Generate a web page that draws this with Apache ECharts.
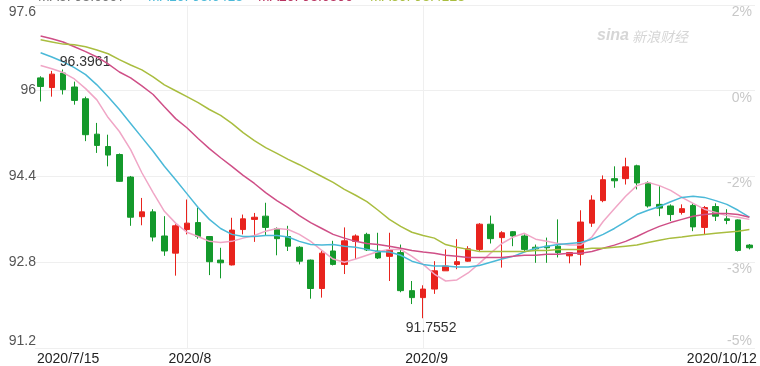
<!DOCTYPE html>
<html><head><meta charset="utf-8">
<script src="https://cdn.jsdelivr.net/npm/echarts@6/dist/echarts.min.js"></script>
<style>html,body{margin:0;padding:0;background:#fff}#c{width:760px;height:366px}</style>
</head><body><div id="c"></div>
<script>
const dates = ['2020/7/15','2020/7/16','2020/7/17','2020/7/20','2020/7/21','2020/7/22','2020/7/23','2020/7/24','2020/7/27','2020/7/28','2020/7/29','2020/7/30','2020/7/31',
'2020/8/3','2020/8/4','2020/8/5','2020/8/6','2020/8/7','2020/8/10','2020/8/11','2020/8/12','2020/8/13','2020/8/14','2020/8/17','2020/8/18','2020/8/19','2020/8/20','2020/8/21','2020/8/24','2020/8/25','2020/8/26','2020/8/27','2020/8/28','2020/8/31',
'2020/9/1','2020/9/2','2020/9/3','2020/9/4','2020/9/7','2020/9/8','2020/9/9','2020/9/10','2020/9/11','2020/9/14','2020/9/15','2020/9/16','2020/9/17','2020/9/18','2020/9/21','2020/9/22','2020/9/23','2020/9/24','2020/9/25','2020/9/28','2020/9/29','2020/9/30',
'2020/10/1','2020/10/2','2020/10/5','2020/10/6','2020/10/7','2020/10/8','2020/10/9','2020/10/12'];
const opens  = [96.24,96.06,96.33,96.07,95.85,95.19,94.96,94.81,94.39,93.65,93.74,93.29,92.97,93.41,93.54,93.28,92.84,92.75,93.41,93.60,93.66,93.43,93.28,93.08,92.84,92.31,93.01,92.76,93.19,93.32,93.01,92.91,92.98,92.27,92.14,92.30,92.64,92.76,92.82,93.04,93.51,93.26,93.37,93.29,93.08,93.10,93.10,92.92,92.95,93.53,93.95,94.36,94.36,94.60,94.28,93.88,93.85,93.73,93.86,93.45,93.84,93.61,93.59,93.12];
const closes = [96.08,96.31,96.02,95.82,95.18,94.98,94.80,94.31,93.64,93.74,93.27,93.01,93.48,93.53,93.28,92.81,92.79,93.40,93.61,93.64,93.45,93.24,93.10,92.82,92.31,92.97,92.76,93.20,93.29,93.03,92.88,93.03,92.27,92.14,92.30,92.64,92.73,92.81,93.05,93.51,93.24,93.35,93.29,93.04,93.05,93.07,92.98,92.98,93.55,93.96,94.34,94.32,94.58,94.28,93.85,93.81,93.69,93.80,93.46,93.82,93.66,93.58,93.02,93.07];
const lows   = [95.80,95.89,95.93,95.74,95.06,94.84,94.59,94.30,93.48,93.49,93.19,92.92,92.55,93.32,93.24,92.56,92.50,92.74,93.32,93.18,93.29,92.93,93.01,92.76,92.12,92.14,92.74,92.58,92.86,93.01,92.86,92.45,92.24,92.02,91.7552,92.21,92.64,92.67,92.81,93.01,93.15,92.70,93.10,93.01,92.79,92.79,92.89,92.78,92.74,93.46,93.92,94.19,94.25,94.16,93.82,93.66,93.57,93.69,93.38,93.32,93.57,93.51,93.00,93.04];
const highs  = [96.27,96.37,96.3961,96.17,95.89,95.40,95.18,94.83,94.41,94.00,93.79,93.66,93.51,93.97,93.82,93.29,93.07,93.63,93.69,93.72,93.91,93.45,93.48,93.10,92.85,93.01,93.20,93.45,93.32,93.35,93.35,93.35,93.13,92.45,92.37,92.82,93.04,93.23,93.10,93.53,93.67,93.38,93.38,93.32,93.13,93.26,93.60,92.99,93.77,94.05,94.42,94.59,94.75,94.62,94.31,94.22,93.88,93.88,93.90,93.85,93.90,93.79,93.60,93.14];
const ma5  = [96.47,96.41,96.34,96.22,96.04,95.83,95.50,95.24,94.90,94.47,94.10,93.75,93.53,93.36,93.28,93.19,93.17,93.19,93.25,93.30,93.38,93.43,93.41,93.32,93.19,93.02,92.86,92.80,92.86,92.93,93.00,93.04,93.04,92.91,92.76,92.58,92.45,92.47,92.60,92.78,92.97,93.15,93.27,93.34,93.23,93.19,93.15,93.12,93.12,93.27,93.56,93.80,94.03,94.23,94.29,94.23,94.14,94.01,93.90,93.79,93.73,93.67,93.64,93.60];
const ma10 = [96.71,96.63,96.54,96.43,96.30,96.11,95.89,95.65,95.39,95.13,94.87,94.59,94.34,94.08,93.82,93.60,93.43,93.32,93.28,93.28,93.30,93.30,93.27,93.19,93.13,93.12,93.13,93.10,93.08,93.04,93.00,92.99,92.93,92.82,92.76,92.73,92.73,92.71,92.71,92.74,92.80,92.86,92.91,92.99,93.06,93.10,93.13,93.15,93.17,93.23,93.32,93.43,93.56,93.69,93.77,93.84,93.93,94.01,94.03,94.01,93.95,93.88,93.77,93.64];
const ma20 = [97.02,96.97,96.91,96.82,96.73,96.63,96.50,96.35,96.24,96.09,95.93,95.70,95.48,95.31,95.11,94.92,94.75,94.59,94.42,94.27,94.10,93.95,93.82,93.67,93.54,93.43,93.32,93.25,93.19,93.15,93.13,93.10,93.06,93.02,92.99,92.97,92.93,92.91,92.89,92.89,92.89,92.89,92.91,92.93,92.93,92.95,92.95,92.97,92.97,93.00,93.06,93.12,93.19,93.28,93.38,93.47,93.54,93.60,93.66,93.69,93.71,93.71,93.69,93.64];
const ma30 = [96.95,96.91,96.87,96.86,96.82,96.76,96.69,96.58,96.48,96.39,96.26,96.11,96.00,95.89,95.78,95.65,95.54,95.39,95.22,95.07,94.94,94.83,94.72,94.62,94.51,94.40,94.29,94.16,94.05,93.93,93.77,93.60,93.47,93.36,93.30,93.25,93.13,93.08,93.04,93.00,93.00,93.00,93.00,93.00,93.02,93.02,93.04,93.04,93.04,93.06,93.06,93.08,93.10,93.12,93.17,93.21,93.25,93.27,93.30,93.32,93.34,93.36,93.38,93.41];
const xLabelIdx  = [0, 13, 34, 63];
const xLabelText = ['2020/7/15', '2020/8', '2020/9', '2020/10/12'];
const leftTicks  = ['91.2', '92.8', '94.4', '96', '97.6'];   // bottom to top
const rightTicks = ['-5%', '-3%', '-2%', '0%', '2%'];         // bottom to top
const maxIdx = 2,  maxVal = 96.3961;
const minIdx = 34, minVal = 91.7552;
const legendTexts = ['MA5: 93.6007', 'MA10: 93.6413', 'MA20: 93.6390', 'MA30: 93.4128'];

const FONT = 'Arial, "Liberation Sans", sans-serif';
const maColors = ['#f0a6c6', '#4bb9d8', '#cf4f87', '#a9bd3f'];
const legendColors = ['#777777', '#4bb9d8', '#b8325f', '#a9bd3f'];
const legendX = [38, 148, 258, 370];

const chart = echarts.init(document.getElementById('c'), null, {renderer: 'canvas'});
const xPad = {0: [0,0,0,55], 1: [0,0,0,6], 2: [0,0,0,7], 3: [0,55,0,0]};
const xRich = {};
xLabelIdx.forEach((k, j) => { xRich['x' + j] = {padding: xPad[j], fontSize: 14, color: '#222', fontFamily: FONT}; });

const option = {
  animation: false,
  backgroundColor: '#fff',
  grid: {left: 35, right: 5, top: 5, bottom: 17, containLabel: false},
  xAxis: {
    type: 'category', data: dates, boundaryGap: true,
    axisLine: {show: false}, axisTick: {show: false},
    axisLabel: {
      interval: (i) => xLabelIdx.indexOf(i) >= 0, margin: 4, fontSize: 14, color: '#222', fontFamily: FONT,
      formatter: (v, i) => { const j = xLabelIdx.indexOf(i); return '{x' + j + '|' + xLabelText[j] + '}'; },
      rich: xRich
    },
    splitLine: {show: true, interval: (i) => i === xLabelIdx[1] || i === xLabelIdx[2], alignWithLabel: true, lineStyle: {color: '#efefef', width: 1}}
  },
  yAxis: [{
    type: 'value', min: 91.2, max: 97.6, interval: 1.6, position: 'left',
    axisLine: {show: false}, axisTick: {show: false},
    splitLine: {show: true, lineStyle: {color: '#efefef', width: 1}},
    axisLabel: {
      margin: -1, fontSize: 14, color: '#555', fontFamily: FONT,
      formatter: (v, i) => { const t = leftTicks[i]; return i === 0 ? '{b|' + t + '}' : (i === leftTicks.length - 1 ? '{t|' + t + '}' : '{m|' + t + '}'); },
      rich: {
        t: {padding: [15, 0, 0, 0], fontSize: 14, color: '#555', fontFamily: FONT},
        b: {padding: [0, 0, 13, 0], fontSize: 14, color: '#555', fontFamily: FONT},
        m: {padding: [0, 0, 1, 0], fontSize: 14, color: '#555', fontFamily: FONT}
      }
    }
  }, {
    type: 'value', min: 91.2, max: 97.6, interval: 1.6, position: 'right',
    axisLine: {show: false}, axisTick: {show: false}, splitLine: {show: false},
    axisLabel: {
      inside: true, margin: 3, fontSize: 14, color: '#c8c8c8', fontFamily: FONT,
      formatter: (v, i) => { const t = rightTicks[i]; return i === 0 ? '{b|' + t + '}' : '{t|' + t + '}'; },
      rich: {
        t: {padding: [14, 0, 0, 0], fontSize: 14, color: '#c8c8c8', fontFamily: FONT},
        b: {padding: [0, 0, 14, 0], fontSize: 14, color: '#c8c8c8', fontFamily: FONT}
      }
    }
  }],
  graphic: [
    {type: 'text', left: 597, top: 28, z: 0, style: {text: 'sina', font: 'italic bold 16px ' + FONT, fill: '#d6d6d6'}},
    {type: 'text', left: 632, top: 30, z: 0, style: {text: '新浪财经', font: 'italic 14px "Noto Sans CJK SC", sans-serif', fill: '#d6d6d6'}}
  ].concat(legendTexts.map((t, k) => ({
    type: 'text', left: legendX[k], top: -10, style: {text: t, font: '14px ' + FONT, fill: legendColors[k]}
  }))),
  series: [{
    type: 'candlestick',
    data: dates.map((d, i) => [opens[i], closes[i], lows[i], highs[i]]),
    barWidth: 6,
    itemStyle: {color: '#e8231d', color0: '#14992b', borderColor: '#e8231d', borderColor0: '#14992b', borderWidth: 1},
    z: 2,
    markPoint: {
      symbol: 'circle', symbolSize: 0, animation: false, silent: true,
      label: {show: true, fontSize: 14, color: '#333', fontFamily: FONT},
      data: [
        {coord: [dates[maxIdx], maxVal], value: maxVal, label: {formatter: String(maxVal), offset: [22, -7]}},
        {coord: [dates[minIdx], minVal], value: minVal, label: {formatter: String(minVal), offset: [8, 10]}}
      ]
    }
  }].concat([ma5, ma10, ma20, ma30].map((arr, k) => ({
    type: 'line', data: arr, showSymbol: false, symbol: 'none', smooth: false, z: 3 + k,
    lineStyle: {color: maColors[k], width: 1.5}
  })))
};
chart.setOption(option);
</script>
</body></html>
